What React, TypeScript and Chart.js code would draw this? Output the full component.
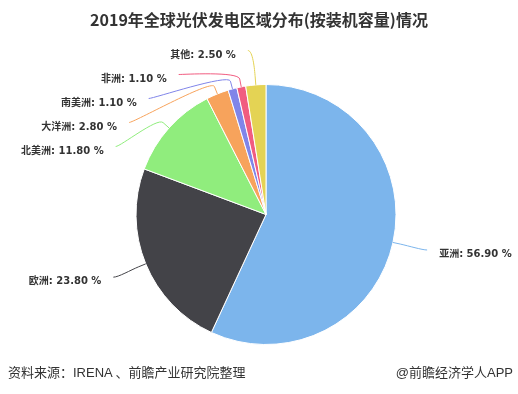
import React, { useEffect, useRef } from "react";
import { Chart, registerables } from "chart.js";

Chart.register(...registerables);

const categories = ["亚洲", "欧洲", "北美洲", "大洋洲", "南美洲", "非洲", "其他"];
const shares = [56.9, 23.8, 11.8, 2.8, 1.1, 1.1, 2.5];
const colors = ["#7cb5ec", "#434348", "#90ed7d", "#f7a35c", "#8085e9", "#f15c80", "#e4d354"];
const titleText = "2019年全球光伏发电区域分布(按装机容量)情况";
const sourceText = "资料来源：IRENA 、前瞻产业研究院整理";
const brandText = "@前瞻经济学人APP";

const LABEL_DISTANCE = 35;
const BREAK_OFFSET = 8;
const LABEL_GAP = 24;
const LABEL_TOP = 50.5;
const TEXT_PAD = 12;
const TEXT_DY = 4.5;
const LABEL_FONT = "bold 10px 'DejaVu Sans', 'Noto Sans CJK SC', sans-serif";

const pieLabels = {
  id: "pieLabels",
  afterDatasetsDraw(chart: any) {
    const ctx = chart.ctx as CanvasRenderingContext2D;
    const meta = chart.getDatasetMeta(0);
    const items = meta.data.map((arc: any, i: number) => {
      const p = arc.getProps(["x", "y", "startAngle", "endAngle", "outerRadius"], true);
      const mid = (p.startAngle + p.endAngle) / 2;
      const c = Math.cos(mid);
      const s = Math.sin(mid);
      const R = p.outerRadius + LABEL_DISTANCE;
      return { i, cx: p.x, cy: p.y, r: p.outerRadius, R, c, s, left: c < 0, y: p.y + s * R, x: 0 };
    });
    for (const side of [true, false]) {
      const group = items.filter((it: any) => it.left === side).sort((a: any, b: any) => a.y - b.y);
      let prev = -Infinity;
      for (const it of group) {
        it.y = Math.max(it.y, prev + LABEL_GAP, LABEL_TOP);
        prev = it.y;
      }
    }
    ctx.save();
    for (const it of items) {
      const dy = it.y - it.cy;
      const dx = Math.sqrt(Math.max(it.R * it.R - dy * dy, 0));
      it.x = it.cx + (it.left ? -dx : dx);
      const tx = it.cx + it.c * it.r;
      const ty = it.cy + it.s * it.r;
      const bx = it.cx + it.c * (it.r + BREAK_OFFSET);
      const by = it.cy + it.s * (it.r + BREAK_OFFSET);
      ctx.beginPath();
      ctx.moveTo(it.x, it.y);
      ctx.bezierCurveTo(it.x + (it.left ? 5 : -5), it.y, 2 * bx - tx, 2 * by - ty, bx, by);
      ctx.lineTo(tx, ty);
      ctx.strokeStyle = colors[it.i];
      ctx.lineWidth = 1;
      ctx.stroke();

      ctx.font = LABEL_FONT;
      ctx.fillStyle = "#333333";
      ctx.textBaseline = "middle";
      ctx.textAlign = it.left ? "right" : "left";
      const label = `${categories[it.i]}: ${shares[it.i].toFixed(2)} %`;
      ctx.fillText(label, it.x + (it.left ? -TEXT_PAD : TEXT_PAD), it.y + TEXT_DY);
    }
    ctx.restore();
  },
};

export default function App() {
  const ref = useRef<HTMLCanvasElement | null>(null);

  useEffect(() => {
    if (!ref.current) return;
    const chart = new Chart(ref.current, {
      type: "pie",
      data: {
        labels: categories,
        datasets: [
          {
            data: shares,
            backgroundColor: colors,
            borderColor: "#ffffff",
            borderWidth: 1,
          },
        ],
      },
      options: {
        responsive: false,
        animation: false,
        radius: 130,
        layout: { padding: { left: 14, right: 0, top: 35, bottom: 0 } },
        plugins: {
          legend: { display: false },
          tooltip: { enabled: false },
          title: { display: false },
        },
      } as any,
      plugins: [pieLabels],
    });
    return () => chart.destroy();
  }, []);

  return (
    <div
      style={{
        position: "absolute",
        left: 0,
        top: 0,
        width: 518,
        height: 394,
        background: "#ffffff",
        overflow: "hidden",
      }}
    >
      <canvas ref={ref} width={518} height={394} style={{ position: "absolute", left: 0, top: 0 }} />
      <div
        style={{
          position: "absolute",
          left: 0,
          top: 9,
          width: 518,
          textAlign: "center",
          font: "bold 16px 'Noto Sans CJK SC', sans-serif",
          lineHeight: "20px",
          color: "#333333",
        }}
      >
        {titleText}
      </div>
      <div
        style={{
          position: "absolute",
          left: 8,
          top: 364,
          font: "13px 'Liberation Sans', 'Noto Sans CJK SC', sans-serif",
          lineHeight: "18px",
          color: "#333333",
        }}
      >
        {sourceText}
      </div>
      <div
        style={{
          position: "absolute",
          right: 5,
          top: 364,
          font: "13px 'Liberation Sans', 'Noto Sans CJK SC', sans-serif",
          lineHeight: "18px",
          color: "#333333",
        }}
      >
        {brandText}
      </div>
    </div>
  );
}
